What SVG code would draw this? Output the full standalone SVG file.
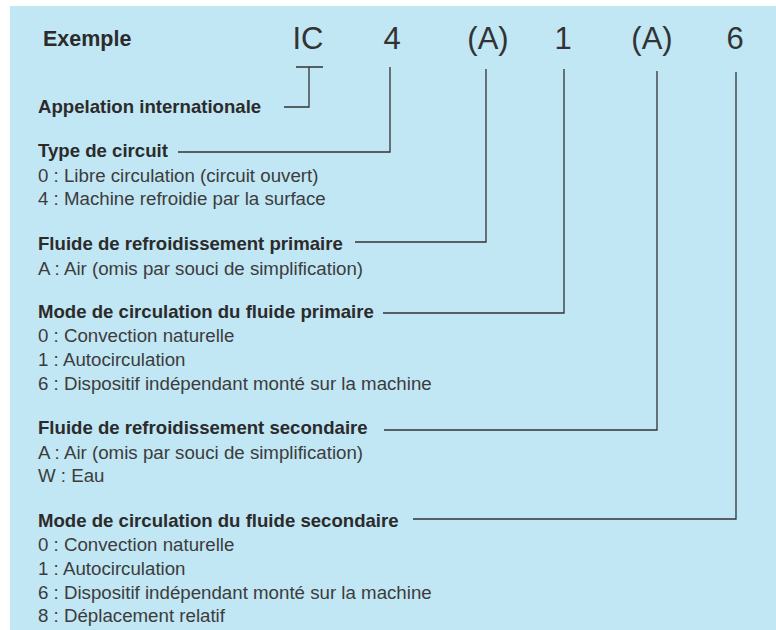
<svg xmlns="http://www.w3.org/2000/svg" width="776" height="630" viewBox="0 0 776 630">
<style>
.bg{fill:#C1E6F4}
.big{font-family:"Liberation Sans",Arial,sans-serif;font-size:31px;fill:#333;text-anchor:middle}
.hd{font-family:"Liberation Sans",Arial,sans-serif;font-size:18.6px;font-weight:bold;fill:#2b2b2b}
.tx{font-family:"Liberation Sans",Arial,sans-serif;font-size:18.7px;fill:#3c3c3c}
.ln{fill:none;stroke:#333;stroke-width:1.3}
</style>
<rect x="0" y="0" width="776" height="630" fill="#ffffff"/>
<rect class="bg" x="10" y="6" width="766" height="624"/>
<g id="code">
<text class="hd" x="43" y="46" style="font-size:21.5px">Exemple</text>
<text class="big" x="308" y="49">IC</text>
<text class="big" x="392" y="49">4</text>
<text class="big" x="488" y="49">(A)</text>
<text class="big" x="563" y="49">1</text>
<text class="big" x="652" y="49">(A)</text>
<text class="big" x="735" y="49">6</text>
</g>
<g id="appelation">
<text class="hd" x="38" y="113">Appelation internationale</text>
</g>
<g id="type-circuit">
<text class="hd" x="38" y="157">Type de circuit</text>
<text class="tx" x="38" y="182">0 : Libre circulation (circuit ouvert)</text>
<text class="tx" x="38" y="205">4 : Machine refroidie par la surface</text>
</g>
<g id="fluide-primaire">
<text class="hd" x="38" y="250">Fluide de refroidissement primaire</text>
<text class="tx" x="38" y="275">A : Air (omis par souci de simplification)</text>
</g>
<g id="mode-primaire">
<text class="hd" x="38" y="318">Mode de circulation du fluide primaire</text>
<text class="tx" x="38" y="342">0 : Convection naturelle</text>
<text class="tx" x="38" y="366">1 : Autocirculation</text>
<text class="tx" x="38" y="390">6 : Dispositif indépendant monté sur la machine</text>
</g>
<g id="fluide-secondaire">
<text class="hd" x="38" y="434">Fluide de refroidissement secondaire</text>
<text class="tx" x="38" y="459">A : Air (omis par souci de simplification)</text>
<text class="tx" x="38" y="482">W : Eau</text>
</g>
<g id="mode-secondaire">
<text class="hd" x="38" y="527">Mode de circulation du fluide secondaire</text>
<text class="tx" x="38" y="551">0 : Convection naturelle</text>
<text class="tx" x="38" y="575">1 : Autocirculation</text>
<text class="tx" x="38" y="599">6 : Dispositif indépendant monté sur la machine</text>
<text class="tx" x="38" y="622">8 : Déplacement relatif</text>
</g>
<g id="connectors">
<path class="ln" d="M296 67H323M309 67V107H284"/>
<path class="ln" d="M390 67V152H178"/>
<path class="ln" d="M486 69V242H355"/>
<path class="ln" d="M564 69V313H383"/>
<path class="ln" d="M657 71V430H384"/>
<path class="ln" d="M736 72V519H413"/>
</g>
</svg>
